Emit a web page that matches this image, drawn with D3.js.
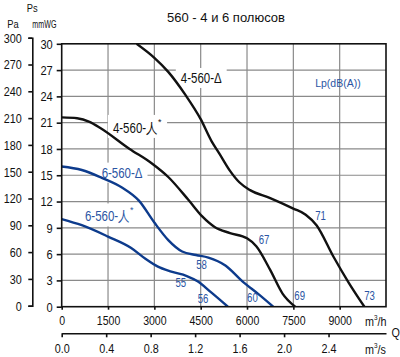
<!DOCTYPE html>
<html><head><meta charset="utf-8">
<script src="https://cdn.jsdelivr.net/npm/d3@7"></script>
<style>
html,body{margin:0;padding:0;background:#fff;}
svg{display:block;}
text{font-family:'Liberation Sans',Arial,sans-serif;}
</style></head>
<body>
<svg id="chart" width="400" height="357"></svg>
<script>
// ---- data (Q in m3/h, Ps in mmWG) ----
const title = "560 - 4 и 6 полюсов";
const qTicks = [0, 1500, 3000, 4500, 6000, 7500, 9000];
const qsTicks = [0, 0.4, 0.8, 1.2, 1.6, 2.0, 2.4];
const mmTicks = [0, 3, 6, 9, 12, 15, 18, 21, 24, 27, 30];
const paTicks = [0, 30, 60, 90, 120, 150, 180, 210, 240, 270, 300];

const curve4D = [[2425,30],[3000,28.4],[3450,26.8],[4000,24.2],[4500,21.4],[4850,18.9],[5100,17.5],[5450,15.5],[5750,14.2],[6100,13.3],[6750,12.4],[7500,11.2],[7900,10.5],[8250,9.3],[8800,5.7],[9300,2.7],[9800,0]];
const curve4Y = [[0,21.6],[500,21.5],[900,21.1],[1250,20.4],[2200,18.0],[2900,16.4],[3450,14.8],[4100,12.2],[4550,10.3],[4950,9.1],[5450,8.4],[6000,7.8],[6300,6.9],[6750,4.2],[7150,1.5],[7560,0]];
const curve6D = [[0,16.0],[650,15.6],[1300,14.7],[1950,13.6],[2500,12.1],[3000,9.6],[3450,7.6],[3900,6.3],[4350,5.9],[4750,5.6],[5300,4.7],[5850,2.9],[6400,1.35],[6850,0]];
const curve6Y = [[0,10.0],[650,9.3],[1500,8.0],[2250,6.7],[2700,5.5],[3100,4.6],[3550,4.0],[4050,3.5],[4400,2.9],[4850,1.6],[5380,0]];

const curveNames = ["4-560-Δ", "4-560-人", "6-560-Δ", "6-560-人"];
const curveStar = [false, true, false, true];
const curveAnchors = [[3857,26.1],[1658,20.4],[1293,15.3],[753,10.3]];

const lpLabels = ["58","55","56","60","69","73","67","71"];
const lpAnchors = [[4526,4.76],[3857,2.67],[4578,0.85],[6175,1.03],[7704,1.26],[9967,1.26],[6550,7.6],[8383,10.4]];

// ---- layout ----
const svg = d3.select("#chart");
const L = 61.7, R = 386, T = 43.8, B = 306.7;
const x = d3.scaleLinear().domain([0, 10500]).range([L, R]);
const y = d3.scaleLinear().domain([0, 30]).range([B, T]);
const yPa = d3.scaleLinear().domain([0, 300]).range([B - 1, y(300/9.81) - 1]);
const xs = d3.scaleLinear().domain([0, 10500/3600]).range([L, R]);

const black = "#111";
const blue = "#0d3b8c";
const lblBlue = "#2b55a3";
const grid = "#8a8a8a";

function narrow(sel, f) {
  sel.each(function () {
    const len = this.getComputedTextLength();
    d3.select(this).attr("textLength", len * f).attr("lengthAdjust", "spacingAndGlyphs");
  });
}

// grid
const g = svg.append("g");
g.selectAll("line.h").data(mmTicks.filter(d => d > 0 && d < 30)).enter().append("line")
  .attr("x1", L).attr("x2", R).attr("y1", d => y(d)).attr("y2", d => y(d))
  .attr("stroke", grid).attr("stroke-width", 1.2);
g.selectAll("line.v").data(qTicks.filter(d => d > 0)).enter().append("line")
  .attr("x1", d => x(d)).attr("x2", d => x(d)).attr("y1", T).attr("y2", B)
  .attr("stroke", grid).attr("stroke-width", 1.2);

const bgLayer = svg.append("g");
const curveLayer = svg.append("g");
const textLayer = svg.append("g");

const cols = [black, black, blue, blue];
curveNames.forEach((nm, i) => {
  const t = textLayer.append("text")
    .attr("x", x(curveAnchors[i][0])).attr("y", y(curveAnchors[i][1]))
    .attr("dominant-baseline", "central")
    .attr("font-size", 14).attr("fill", i < 2 ? black : lblBlue);
  const main = t.append("tspan").text(nm);
  narrow(main, 0.82);
  if (curveStar[i]) t.append("tspan").attr("font-size", 9).attr("dy", -6).attr("dx", 0.5).text("*");
  const bb = t.node().getBBox();
  bgLayer.append("rect").attr("x", bb.x - 5).attr("y", bb.y - 2)
    .attr("width", bb.width + 10).attr("height", bb.height + 4).attr("fill", "#fff");
});

// curves
const line = d3.line().x(d => x(d[0])).y(d => y(d[1])).curve(d3.curveMonotoneX);
svg.append("clipPath").attr("id", "clip").append("rect")
  .attr("x", L).attr("y", T).attr("width", R - L).attr("height", B - T);
[curve4D, curve4Y, curve6D, curve6Y].forEach((c, i) => {
  curveLayer.append("path").attr("d", line(c)).attr("fill", "none")
    .attr("stroke", cols[i]).attr("stroke-width", 2.4).attr("clip-path", "url(#clip)");
});

// Lp labels
lpLabels.forEach((s, i) => {
  const t = textLayer.append("text").attr("x", x(lpAnchors[i][0])).attr("y", y(lpAnchors[i][1]))
    .attr("text-anchor", "middle").attr("dominant-baseline", "central")
    .attr("font-size", 12).attr("fill", lblBlue).text(s);
  narrow(t, 0.8);
});
textLayer.append("text").attr("x", x(8943)).attr("y", y(25.5))
  .attr("text-anchor", "middle").attr("dominant-baseline", "central")
  .attr("font-size", 10.5).attr("fill", lblBlue).text("Lp(dB(A))");

// frame
svg.append("rect").attr("x", L).attr("y", T).attr("width", R - L).attr("height", B - T)
  .attr("fill", "none").attr("stroke", black).attr("stroke-width", 1.6);

// axes
const styleAxis = (sel, fs, f) => {
  sel.selectAll("path.domain").attr("stroke", black).attr("stroke-width", 1.6);
  sel.selectAll(".tick line").attr("stroke", black).attr("stroke-width", 1.6);
  const tx = sel.selectAll("text").attr("font-size", fs).attr("fill", "#111")
    .style("font-family", "'Liberation Sans',Arial,sans-serif");
  narrow(tx, f);
};
const axMm = svg.append("g").attr("transform", `translate(${L},0)`)
  .call(d3.axisLeft(y).tickValues(mmTicks).tickSize(5).tickPadding(4).tickFormat(d3.format("d")));
styleAxis(axMm, 13.5, 0.82);
axMm.select("path.domain").remove();

const axPa = svg.append("g").attr("transform", "translate(32.3,0)")
  .call(d3.axisLeft(yPa).tickValues(paTicks).tickSize(4).tickSizeOuter(4).tickPadding(6.5).tickFormat(d3.format("d")));
styleAxis(axPa, 13.5, 0.8);

const axQ = svg.append("g").attr("transform", `translate(0,${B})`)
  .call(d3.axisBottom(x).tickValues(qTicks).tickSize(3).tickPadding(6).tickFormat(d3.format("d")));
styleAxis(axQ, 13.5, 0.78);
axQ.select("path.domain").remove();

const axQs = svg.append("g").attr("transform", "translate(0,333.3)")
  .call(d3.axisBottom(xs).tickValues(qsTicks).tickSize(4).tickSizeOuter(0).tickPadding(6).tickFormat(d3.format(".1f")));
styleAxis(axQs, 13.5, 0.8);

// unit labels (condensed via horizontal scale)
const unit = (tx, ty, s, fs, sx) => {
  const gg = svg.append("g").attr("transform", `translate(${tx},${ty}) scale(${sx},1)`);
  return gg.append("text").attr("x", 0).attr("y", 0)
    .attr("dominant-baseline", "central").attr("font-size", fs).attr("fill", "#111").text(s);
};
const mh = unit(365, 321.7, "m", 13.5, 0.8);
mh.append("tspan").attr("font-size", 8).attr("dy", -5).text("3");
mh.append("tspan").attr("dy", 5).text("/h");
const ms = unit(365, 349.3, "m", 13.5, 0.8);
ms.append("tspan").attr("font-size", 8).attr("dy", -5).text("3");
ms.append("tspan").attr("dy", 5).text("/s");
unit(391.5, 332.7, "Q", 13.5, 0.8);
unit(7.3, 24, "Pa", 11, 0.85);
unit(26.7, 8.3, "Ps", 11, 0.85);
unit(32.3, 24, "mmWG", 10.5, 0.68);

svg.append("text").attr("x", 226).attr("y", 17).attr("text-anchor", "middle")
  .attr("dominant-baseline", "central").attr("font-size", 13).attr("fill", "#111")
  .text(title);
</script>
</body></html>
